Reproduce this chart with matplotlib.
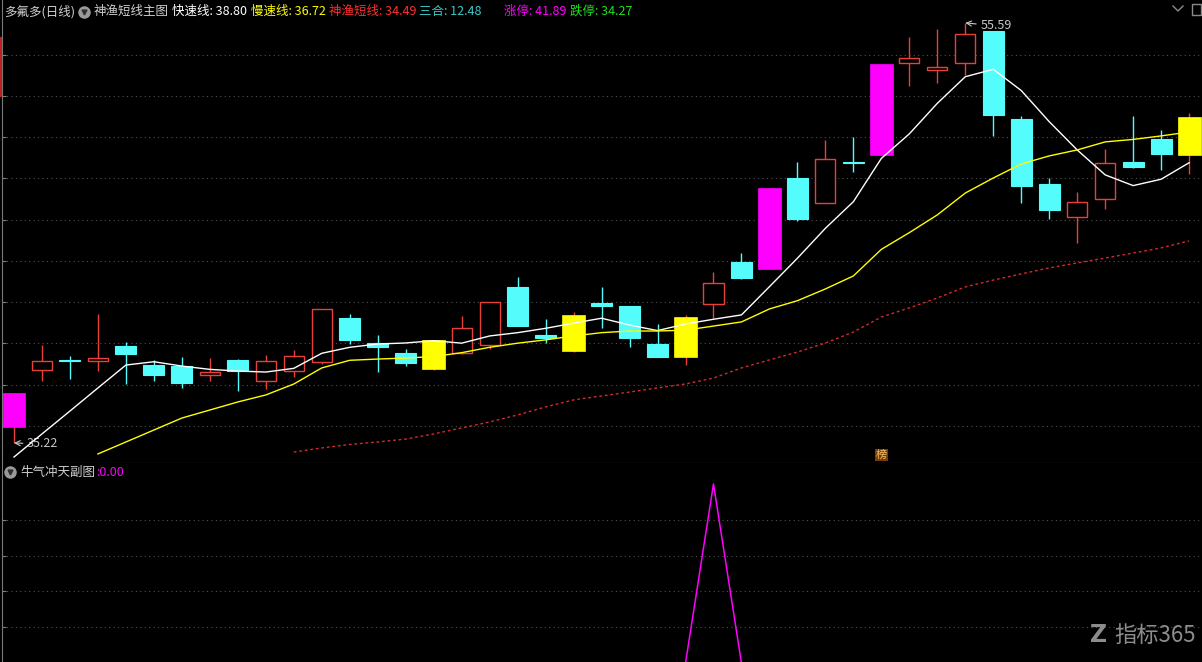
import numpy as np
import matplotlib.pyplot as plt
import matplotlib.transforms as mtransforms
from matplotlib.patches import Rectangle
from matplotlib.lines import Line2D
from matplotlib import rcParams

rcParams['font.family'] = ['Noto Sans CJK SC', 'DejaVu Sans']
rcParams['font.size'] = 9

W, H = 1202, 662

# daily bars
# zt = limit-up bar (magenta), sig = signal bar (yellow), up / dn = normal
kinds = ['zt', 'up', 'dn', 'up', 'dn', 'dn', 'dn', 'up', 'dn', 'up',
         'up', 'up', 'dn', 'dn', 'dn', 'sig', 'up', 'up', 'dn', 'dn',
         'sig', 'dn', 'dn', 'dn', 'sig', 'up', 'dn', 'zt', 'dn', 'up',
         'dn', 'zt', 'up', 'up', 'up', 'dn', 'dn', 'dn', 'up', 'up',
         'dn', 'dn', 'sig']
opens = [36.01, 38.75, 39.24, 39.18, 39.92, 39.00, 38.94, 38.53, 39.25, 38.21,
         38.70, 39.13, 41.28, 40.06, 39.58, 38.82, 39.60, 39.99, 42.79, 40.46,
         39.70, 42.02, 41.86, 40.02, 39.41, 41.95, 44.00, 43.66, 48.06, 46.84,
         48.83, 49.19, 53.66, 53.32, 53.63, 55.22, 50.93, 47.78, 46.17, 47.04,
         48.83, 49.96, 49.19]
highs = [37.66, 39.97, 39.44, 41.48, 40.12, 39.23, 39.38, 39.34, 39.27, 39.50,
         39.73, 41.72, 41.48, 40.46, 39.79, 40.22, 41.39, 42.04, 43.29, 41.22,
         41.59, 42.80, 41.86, 40.99, 41.43, 43.50, 44.42, 47.59, 48.85, 49.91,
         50.07, 53.60, 54.90, 55.30, 55.59, 55.22, 51.08, 48.07, 47.38, 49.46,
         51.08, 50.40, 51.21]
lows = [35.22, 38.24, 38.34, 38.73, 38.08, 38.24, 37.90, 38.24, 37.76, 37.85,
        38.42, 39.05, 40.01, 38.68, 38.95, 38.76, 39.54, 39.76, 40.91, 40.06,
        39.65, 40.81, 39.89, 39.41, 39.00, 41.30, 43.19, 43.66, 46.00, 46.84,
        48.38, 49.19, 52.55, 52.69, 53.07, 50.12, 46.87, 46.10, 44.93, 46.57,
        48.57, 48.46, 48.27]
closes = [37.66, 39.20, 39.22, 39.33, 39.55, 38.53, 38.14, 38.68, 38.71, 39.20,
          39.42, 41.72, 40.23, 39.89, 39.11, 40.22, 40.78, 42.04, 40.91, 40.33,
          41.43, 41.88, 40.33, 39.41, 41.33, 42.97, 43.24, 47.59, 46.08, 48.98,
          48.79, 53.60, 53.88, 53.45, 55.06, 51.14, 47.70, 46.53, 46.89, 48.78,
          48.62, 49.25, 51.02]

nan = np.nan
fast_line = [34.54, 35.66, 36.77, 37.89, 39.00, 39.16, 38.95, 38.79, 38.71, 38.66,
             38.84, 39.57, 39.86, 40.02, 40.07, 40.18, 40.06, 40.41, 40.57, 40.78,
             41.03, 41.27, 40.94, 40.67, 40.99, 41.22, 41.43, 42.80, 44.18, 45.63,
             46.92, 49.02, 50.21, 51.69, 52.98, 53.34, 52.31, 50.80, 49.43, 48.22,
             47.70, 48.01, 48.81]
slow_line = [nan, nan, nan, 34.69, 35.27, 35.85, 36.43, 36.82, 37.21, 37.55,
             38.08, 38.86, 39.23, 39.29, 39.34, 39.41, 39.60, 39.86, 40.06, 40.22,
             40.41, 40.57, 40.65, 40.65, 40.69, 40.89, 41.09, 41.72, 42.12, 42.69,
             43.32, 44.61, 45.42, 46.28, 47.34, 48.07, 48.75, 49.14, 49.43, 49.82,
             49.94, 50.11, 50.30]
fish_line = [nan, nan, nan, nan, nan, nan, nan, nan, nan, nan,
             34.78, 34.98, 35.15, 35.27, 35.41, 35.66, 35.95, 36.24, 36.58, 36.97,
             37.31, 37.50, 37.69, 37.89, 38.08, 38.37, 38.86, 39.25, 39.63, 40.07,
             40.60, 41.33, 41.77, 42.25, 42.79, 43.12, 43.42, 43.71, 43.95, 44.19,
             44.43, 44.68, 45.02]
sub_vals = [0, 0, 0, 0, 0, 0, 0, 0, 0, 0,
            0, 0, 0, 0, 0, 0, 0, 0, 0, 0,
            0, 0, 0, 0, 0, 1, 0, 0, 0, 0,
            0, 0, 0, 0, 0, 0, 0, 0, 0, 0,
            0, 0, 0]

RED = '#e8413c'
CYAN = '#54fcfc'
MAG = '#ff00ff'
YEL = '#ffff00'
GRID = '#505050'

fig = plt.figure(figsize=(W / 100, H / 100), dpi=100, facecolor='black')
ax = fig.add_axes([2 / W, 199 / H, 1200 / W, 463 / H], facecolor='black')
sub = fig.add_axes([2 / W, 0, 1200 / W, 199 / H], facecolor='black')

x = np.arange(len(closes))

for i in x:
    k = kinds[i]
    o, c, hi, lo = opens[i], closes[i], highs[i], lows[i]
    bot, h = min(o, c), abs(c - o)
    if k == 'dn':
        ax.vlines(i, lo, hi, color=CYAN, lw=1, zorder=2)
        ax.add_patch(Rectangle((i - 0.375, bot), 0.75, h, facecolor=CYAN,
                               edgecolor=CYAN, lw=0.8, zorder=3))
    elif k == 'up':
        ax.vlines(i, lo, hi, color=RED, lw=1, zorder=2)
        ax.add_patch(Rectangle((i - 0.36, bot), 0.72, h, facecolor='black',
                               edgecolor=RED, lw=1, zorder=3))
    else:
        col = MAG if k == 'zt' else YEL
        ax.vlines(i, lo, hi, color=RED, lw=1, zorder=2)
        ax.add_patch(Rectangle((i - 0.41, bot), 0.82, h, facecolor=col,
                               edgecolor=col, lw=0.5, zorder=3))

ax.plot(x, fast_line, color='white', lw=1, zorder=4)
ax.plot(x, slow_line, color=YEL, lw=1, zorder=4)
ax.plot(x, fish_line, color='#d42a2a', lw=1, ls=(0, (2, 2)), zorder=4)

# high / low markers
ax.annotate('55.59', xy=(34, 55.59), xytext=(15, -3), textcoords='offset pixels',
            color='#c8c8c8', fontsize=9, va='center', ha='left',
            arrowprops=dict(arrowstyle='->', color='#c8c8c8', lw=0.8,
                            shrinkA=1, shrinkB=0))
ax.annotate('35.22', xy=(0, 35.22), xytext=(13, -1), textcoords='offset pixels',
            color='#c8c8c8', fontsize=9, va='center', ha='left',
            arrowprops=dict(arrowstyle='->', color='#c8c8c8', lw=0.8,
                            shrinkA=1, shrinkB=0))

trans = mtransforms.blended_transform_factory(ax.transData, ax.transAxes)
ax.text(31, 0.017, '榜', transform=trans, ha='center', va='center',
        fontsize=8, color='#f0c060',
        bbox=dict(boxstyle='square,pad=0.1', facecolor='#7a3a10', edgecolor='none'))

ax.set_xlim(-0.429, 42.46)
ax.set_ylim(34.25, 56.70)
ax.set_xticks([])
ax.set_yticks(np.arange(36.05, 55, 2.0))
ax.yaxis.grid(True, color=GRID, linestyle=(0, (1, 3)), lw=0.8)
ax.tick_params(axis='y', labelleft=False, direction='in', length=3, color='#808080')
for s in ['top', 'right']:
    ax.spines[s].set_visible(False)
ax.spines['left'].set_color('#7a7a7a')
ax.spines['bottom'].set_color('#5a5a5a')

sub.plot(x, sub_vals, color=MAG, lw=1.1)
sub.set_xlim(-0.429, 42.46)
sub.set_ylim(0.006, 1.117)
sub.set_xticks([])
sub.set_yticks([0.2, 0.4, 0.6, 0.8])
sub.yaxis.grid(True, color=GRID, linestyle=(0, (1, 3)), lw=0.8)
sub.tick_params(axis='y', labelleft=False, direction='in', length=3, color='#808080')
for s in ['top', 'right', 'bottom']:
    sub.spines[s].set_visible(False)
sub.spines['left'].set_color('#7a7a7a')


def px(xp, yp):
    # pixel position (from top-left) to figure fraction
    return xp / W, 1 - yp / H


def ftext(xp, yp, s, color, **kw):
    fx, fy = px(xp, yp)
    fig.text(fx, fy, s, color=color, va='center', ha='left', **kw)


def fline(xs, ys, **kw):
    pts = [px(a, b) for a, b in zip(xs, ys)]
    fig.add_artist(Line2D([p[0] for p in pts], [p[1] for p in pts],
                          transform=fig.transFigure, **kw))


# red mark on the left edge of the price panel
fline([1, 1], [38, 96], color='#c02020', lw=1.5)

# header line of main panel
ftext(4, 11.5, '多氟多(日线)', '#d0d0d0')
fline([84.5], [11.5], marker='o', markersize=8, color='#9a9a9a', lw=0)
fline([84.5], [11.5], marker='v', markersize=3.5, color='#303030', lw=0)
ftext(94, 11.5, '神渔短线主图', '#d0d0d0')
ftext(172, 11.5, '快速线: 38.80', '#ffffff')
ftext(251, 11.5, '慢速线: 36.72', YEL)
ftext(329, 11.5, '神渔短线: 34.49', '#ff3030')
ftext(419, 11.5, '三合: 12.48', '#3cc8c8')
ftext(504, 11.5, '涨停: 41.89', MAG)
ftext(570, 11.5, '跌停: 34.27', '#20e020')

# small window icons at the top right
fline([1173, 1178, 1183], [6, 11, 6], color='#8a8a8a', lw=1)
fig.add_artist(Rectangle(px(1192, 15), 9 / W, 11 / H, transform=fig.transFigure,
                         facecolor='none', edgecolor='#8a8a8a', lw=1))

# header line of sub panel
fline([9.5], [472], marker='o', markersize=8, color='#9a9a9a', lw=0)
fline([9.5], [472], marker='v', markersize=3.5, color='#303030', lw=0)
ftext(20, 472, '牛气冲天副图', '#d0d0d0')
ftext(96, 472, ':0.00', MAG)

# watermark
ftext(1090, 635, 'Z', '#8c8c8c', fontsize=17, fontweight='bold', family='DejaVu Sans')
ftext(1114, 635, '指标365', '#8c8c8c', fontsize=16)

fig.savefig('out.png', dpi=100, facecolor='black')
